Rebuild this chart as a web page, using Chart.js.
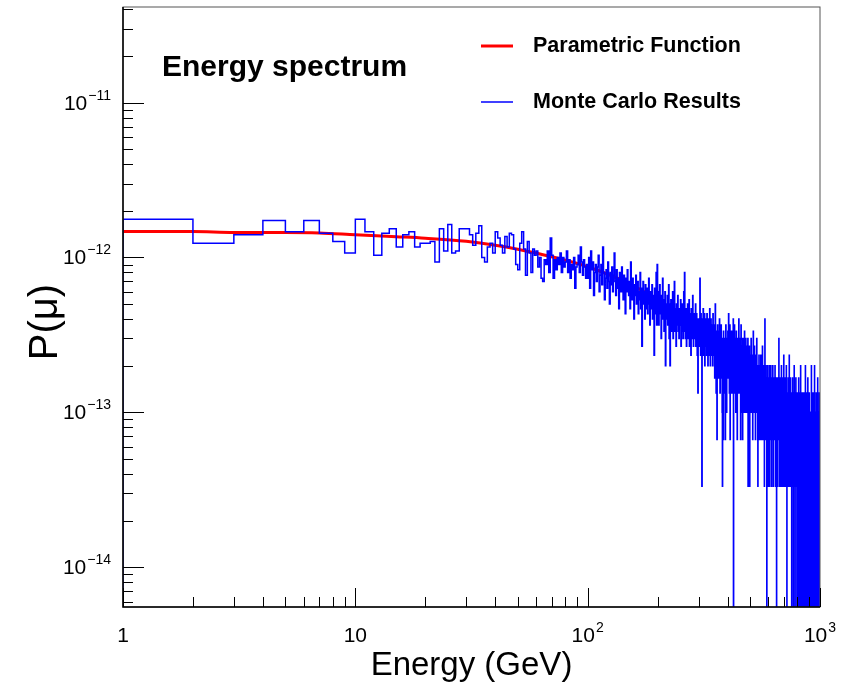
<!DOCTYPE html>
<html>
<head>
<meta charset="utf-8">
<script src="https://cdn.jsdelivr.net/npm/chart.js@4.4.0/dist/chart.umd.min.js"></script>
<style>
  body { margin: 0; background: #ffffff; }
  #wrap { width: 846px; height: 685px; }
</style>
</head>
<body>
<div id="wrap"><canvas id="myChartSpectrum" width="846" height="685"></canvas></div>
<script>
/*------------------------------------------
Datos: histograma Monte Carlo (eventos por bin de 1 GeV) y funcion parametrica
-------------------------------------------*/
const binStart = 1; // GeV, left edge of first bin
const binWidth = 1; // GeV
const eventWeight = 1e-12 / 30; // P(mu) carried by one event in a bin

const mcCounts1to99 = [
  53, 37, 42, 52, 44, 52, 43, 38, 32,
  53, 44, 31, 43, 46, 35, 42, 44, 35, 37,
  37, 38, 28, 46, 33, 49, 32, 33, 46, 46,
  46, 42, 36, 43, 48, 30, 28, 35, 37, 32,
  44, 40, 36, 32, 41, 35, 43, 42, 34, 27,
  25, 37, 44, 34, 23, 38, 32, 24, 34, 31,
  33, 26, 30, 22, 21, 29, 27, 33, 24, 40,
  31, 22, 29, 25, 30, 27, 32, 24, 30, 26,
  28, 33, 24, 29, 22, 27, 25, 30, 19, 26,
  27, 31, 24, 35, 28, 23, 29, 26, 22, 27,
];
const mcCounts100to299 = [
  22, 30, 19, 33, 25, 28, 17, 24, 27, 21,
  26, 31, 18, 23, 27, 20, 35, 24, 16, 22,
  25, 19, 28, 21, 15, 24, 20, 26, 18, 23,
  32, 21, 17, 25, 19, 22, 14, 24, 20, 18,
  26, 21, 16, 23, 19, 13, 22, 18, 25, 20,
  17, 21, 14, 28, 19, 16, 22, 18, 12, 20,
  17, 23, 15, 19, 21, 13, 18, 16, 24, 14,
  19, 8, 17, 21, 15, 18, 12, 20, 16, 14,
  19, 13, 17, 22, 15, 11, 18, 14, 16, 20,
  12, 17, 15, 7, 19, 13, 16, 24, 11, 27,
  14, 18, 11, 16, 20, 13, 15, 9, 17, 12,
  22, 14, 16, 10, 13, 18, 6, 15, 12, 14,
  17, 11, 13, 20, 9, 15, 6, 12, 16, 10,
  14, 12, 18, 9, 13, 11, 21, 10, 14, 12,
  8, 15, 11, 13, 17, 10, 12, 9, 14, 11,
  13, 16, 8, 12, 10, 15, 11, 9, 13, 18,
  10, 24, 12, 9, 14, 11, 8, 13, 10, 15,
  12, 9, 11, 16, 8, 13, 10, 12, 7, 14,
  11, 9, 12, 17, 10, 8, 11, 13, 9, 12,
  10, 15, 8, 11, 13, 9, 7, 12, 4, 10,
];
const mcCounts300to599 = [
  9, 12, 8, 11, 22, 10, 7, 13, 9, 11,
  1, 12, 8, 10, 14, 7, 11, 9, 13, 6,
  10, 8, 12, 9, 11, 7, 13, 8, 10, 6,
  12, 9, 7, 11, 8, 14, 10, 6, 9, 12,
  8, 10, 7, 11, 9, 6, 13, 8, 10, 7,
  9, 11, 5, 8, 15, 7, 10, 4, 9, 6,
  2, 8, 11, 7, 9, 5, 10, 6, 8, 12,
  7, 4, 9, 6, 8, 11, 5, 7, 9, 3,
  1, 8, 6, 2, 10, 7, 5, 9, 4, 8,
  6, 2, 7, 11, 5, 8, 3, 6, 9, 5,
  7, 10, 5, 8, 13, 6, 9, 4, 7, 11,
  2, 8, 6, 9, 5, 7, 10, 4, 8, 6,
  9, 5, 7, 12, 0, 6, 8, 5, 11, 7,
  4, 9, 6, 8, 3, 7, 10, 5, 6, 8,
  2, 7, 5, 9, 6, 4, 8, 12, 5, 7,
  6, 4, 9, 5, 7, 2, 6, 11, 4, 8,
  5, 3, 7, 6, 2, 9, 5, 4, 7, 6,
  3, 8, 5, 10, 4, 6, 7, 3, 5, 9,
  4, 6, 5, 8, 3, 7, 4, 6, 5, 9,
  1, 5, 7, 4, 6, 3, 8, 5, 1, 6,
  5, 3, 7, 4, 6, 9, 4, 5, 3, 6,
  4, 7, 5, 2, 6, 4, 10, 5, 3, 6,
  4, 5, 8, 3, 6, 4, 5, 2, 7, 4,
  5, 3, 6, 4, 9, 5, 3, 6, 4, 2,
  1, 5, 4, 6, 3, 5, 7, 4, 2, 5,
  4, 6, 3, 5, 2, 4, 7, 3, 5, 4,
  2, 6, 4, 3, 5, 8, 4, 2, 5, 3,
  4, 6, 3, 5, 2, 4, 1, 5, 3, 12,
  4, 3, 5, 2, 6, 4, 3, 5, 2, 4,
  0, 5, 3, 4, 6, 2, 4, 3, 5, 1,
];
const mcCounts600to999 = [
  4, 3, 5, 2, 4, 6, 3, 1, 4, 3,
  5, 2, 4, 3, 6, 2, 4, 5, 3, 1,
  4, 3, 2, 5, 3, 4, 6, 2, 3, 4,
  1, 5, 3, 2, 4, 3, 5, 2, 4, 3,
  6, 2, 3, 4, 1, 3, 5, 2, 4, 3,
  0, 4, 2, 3, 5, 3, 1, 4, 2, 3,
  5, 3, 2, 4, 3, 9, 2, 4, 3, 1,
  4, 2, 3, 5, 2, 3, 4, 1, 3, 2,
  4, 3, 6, 2, 3, 1, 4, 3, 2, 5,
  3, 2, 4, 1, 3, 2, 4, 3, 7, 2,
  3, 2, 4, 1, 3, 2, 5, 3, 2, 4,
  1, 3, 2, 4, 3, 2, 6, 3, 1, 2,
  0, 3, 4, 2, 3, 1, 4, 2, 3, 5,
  2, 3, 1, 4, 2, 3, 2, 7, 1, 3,
  2, 4, 3, 1, 2, 5, 3, 2, 4, 1,
  3, 2, 4, 3, 2, 0, 3, 4, 2, 1,
  3, 5, 2, 3, 1, 4, 2, 3, 0, 2,
  4, 1, 3, 2, 6, 3, 1, 2, 4, 3,
  2, 0, 3, 1, 4, 2, 3, 5, 1, 2,
  3, 2, 4, 1, 3, 0, 2, 3, 1, 4,
  2, 3, 1, 0, 2, 4, 3, 1, 2, 5,
  2, 1, 3, 0, 2, 3, 1, 4, 2, 3,
  1, 2, 0, 3, 2, 6, 1, 3, 2, 4,
  2, 1, 3, 2, 0, 4, 2, 1, 3, 2,
  3, 1, 2, 0, 3, 2, 4, 1, 2, 3,
  0, 2, 3, 1, 2, 0, 3, 2, 1, 4,
  2, 0, 3, 1, 2, 6, 0, 2, 3, 1,
  2, 3, 0, 1, 2, 4, 1, 0, 3, 2,
  1, 2, 0, 3, 1, 2, 5, 1, 0, 2,
  3, 1, 2, 0, 2, 3, 1, 0, 2, 4,
  1, 2, 0, 3, 1, 2, 0, 2, 3, 1,
  0, 2, 1, 3, 2, 0, 1, 2, 6, 1,
  0, 3, 2, 1, 0, 2, 3, 1, 2, 0,
  1, 2, 4, 0, 2, 1, 3, 0, 2, 1,
  2, 0, 3, 1, 2, 0, 1, 6, 2, 0,
  1, 3, 2, 0, 1, 2, 0, 3, 1, 2,
  0, 1, 2, 4, 0, 2, 1, 3, 0, 2,
  1, 0, 2, 3, 1, 0, 2, 5, 1, 0,
  2, 1, 3, 0, 2, 1, 0, 2, 3, 1,
  0, 2, 1, 4, 0, 2, 3, 1, 0, 2,
];

// funcion parametrica (curva roja)
const fitEnergy = [1, 2, 3, 5, 7, 10, 15, 20, 30, 40, 50, 70, 100, 150, 200, 300, 400, 500, 700, 1000];
const fitValues = [
  1.47e-12, 1.47e-12, 1.45e-12, 1.45e-12, 1.44e-12, 1.40e-12, 1.36e-12, 1.33e-12, 1.27e-12, 1.20e-12,
  1.13e-12, 1.01e-12, 0.87e-12, 0.68e-12, 0.53e-12, 0.34e-12, 0.23e-12, 0.17e-12, 0.105e-12, 0.06e-12,
];

// ejes
const xMin = 1, xMax = 1000;
const yMin = 5.53e-15, yMax = 4.14e-11;
const xTickValues = [1, 10, 100, 1000];
const xTickBase = ["1", "10", "10", "10"];
const xTickExp = ["", "", "2", "3"];
const yTickValues = [1e-11, 1e-12, 1e-13, 1e-14];
const yTickBase = ["10", "10", "10", "10"];
const yTickExp = ["\u221211", "\u221212", "\u221213", "\u221214"];

const titleText = "Energy spectrum";
const legendLabels = ["Parametric Function", "Monte Carlo Results"];
const legendColors = ["#ff0000", "#0000ff"];
const xTitle = "Energy (GeV)";
const yTitle = "P(\u03bc)";

/*------------------------------------------
Armo los puntos
-------------------------------------------*/
const mcCounts = [].concat(mcCounts1to99, mcCounts100to299, mcCounts300to599, mcCounts600to999);
const emptyBin = 1e-16; // bins sin eventos caen debajo del eje
let mcPoints = [{ x: binStart, y: emptyBin }];
mcCounts.forEach((c, i) => {
  mcPoints.push({ x: binStart + i * binWidth, y: c > 0 ? c * eventWeight : emptyBin });
});
const lastEdge = binStart + mcCounts.length * binWidth;
mcPoints.push({ x: lastEdge, y: mcPoints[mcPoints.length - 1].y });
mcPoints.push({ x: lastEdge, y: emptyBin });

let fitPoints = fitEnergy.map((e, i) => ({ x: e, y: fitValues[i] }));

const FONT = "'Liberation Sans', Arial, Helvetica, sans-serif";

function drawPower(ctx, base, exp, x, y, align) {
  ctx.font = "21px " + FONT;
  const wb = ctx.measureText(base).width;
  ctx.font = "14px " + FONT;
  const we = exp ? ctx.measureText(exp).width + 1 : 0;
  const left = align === "right" ? x - wb - we : x - (wb + we) / 2;
  ctx.textAlign = "left";
  ctx.textBaseline = "alphabetic";
  ctx.font = "21px " + FONT;
  ctx.fillText(base, left, y);
  if (exp) {
    ctx.font = "14px " + FONT;
    ctx.fillText(exp, left + wb + 1, y - 10);
  }
}

// marco, ticks y textos estilo ROOT
const rootFrame = {
  id: "rootFrame",
  afterDraw(chart) {
    const ctx = chart.ctx;
    const a = chart.chartArea;
    const xs = chart.scales.x;
    const ys = chart.scales.y;
    ctx.save();
    ctx.fillStyle = "#000";
    ctx.strokeStyle = "#000";

    // frame
    ctx.lineWidth = 1;
    ctx.strokeStyle = "#555";
    ctx.strokeRect(a.left, a.top, a.right - a.left, a.bottom - a.top);
    ctx.strokeStyle = "#000";
    ctx.lineWidth = 1.5;
    ctx.beginPath();
    ctx.moveTo(a.left, a.top);
    ctx.lineTo(a.left, a.bottom);
    ctx.lineTo(a.right, a.bottom);
    ctx.stroke();

    // ticks
    ctx.lineWidth = 1;
    ctx.beginPath();
    for (let d = 1; d <= 1000; d *= 10) {
      for (let k = 1; k <= 9; k++) {
        const v = k * d;
        if (v < xMin || v > xMax) continue;
        const px = Math.round(xs.getPixelForValue(v)) + 0.5;
        ctx.moveTo(px, a.bottom);
        ctx.lineTo(px, a.bottom - (k === 1 ? 19 : 10));
      }
    }
    for (let p = -15; p <= -11; p++) {
      for (let k = 1; k <= 9; k++) {
        const v = k * Math.pow(10, p);
        if (v < yMin || v > yMax) continue;
        const py = Math.round(ys.getPixelForValue(v)) + 0.5;
        ctx.moveTo(a.left, py);
        ctx.lineTo(a.left + (k === 1 ? 21 : 10), py);
      }
    }
    ctx.stroke();

    // tick labels
    xTickValues.forEach((v, i) => {
      drawPower(ctx, xTickBase[i], xTickExp[i], xs.getPixelForValue(v), 642, "center");
    });
    yTickValues.forEach((v, i) => {
      drawPower(ctx, yTickBase[i], yTickExp[i], 111, ys.getPixelForValue(v) + 7, "right");
    });

    // titulos de ejes
    ctx.font = "33px " + FONT;
    ctx.textAlign = "center";
    ctx.textBaseline = "alphabetic";
    ctx.fillText(xTitle, (a.left + a.right) / 2, 675);
    ctx.save();
    ctx.translate(57, 322);
    ctx.rotate(-Math.PI / 2);
    ctx.font = "40px " + FONT;
    ctx.fillText(yTitle, 0, 0);
    ctx.restore();

    // titulo
    ctx.font = "bold 30px " + FONT;
    ctx.textAlign = "left";
    ctx.fillText(titleText, 162, 76);

    // leyenda
    const legendY = [46, 102];
    const legendW = [3, 1.5];
    legendLabels.forEach((label, i) => {
      ctx.strokeStyle = legendColors[i];
      ctx.lineWidth = legendW[i];
      ctx.beginPath();
      ctx.moveTo(481, legendY[i]);
      ctx.lineTo(513, legendY[i]);
      ctx.stroke();
      ctx.fillStyle = "#000";
      ctx.font = "bold 21.5px " + FONT;
      ctx.textBaseline = "middle";
      ctx.fillText(label, 533, legendY[i]);
    });
    ctx.restore();
  },
};

const ctxSpectrum = document.getElementById("myChartSpectrum").getContext("2d");
const myChartSpectrum = new Chart(ctxSpectrum, {
  type: "line",
  data: {
    datasets: [
      {
        label: legendLabels[1],
        data: mcPoints,
        borderColor: legendColors[1],
        borderWidth: 1.5,
        stepped: "before",
        pointRadius: 0,
        fill: false,
        order: 0,
        clip: 0,
      },
      {
        label: legendLabels[0],
        data: fitPoints,
        borderColor: legendColors[0],
        borderWidth: 3,
        cubicInterpolationMode: "monotone",
        pointRadius: 0,
        fill: false,
        order: 1,
        clip: 0,
      },
    ],
  },
  options: {
    responsive: false,
    animation: false,
    layout: { padding: { left: 123, right: 26, top: 7, bottom: 78 } },
    plugins: {
      legend: { display: false },
      tooltip: { enabled: false },
    },
    scales: {
      x: { type: "logarithmic", min: xMin, max: xMax, display: false },
      y: { type: "logarithmic", min: yMin, max: yMax, display: false },
    },
  },
  plugins: [rootFrame],
});
</script>
</body>
</html>
